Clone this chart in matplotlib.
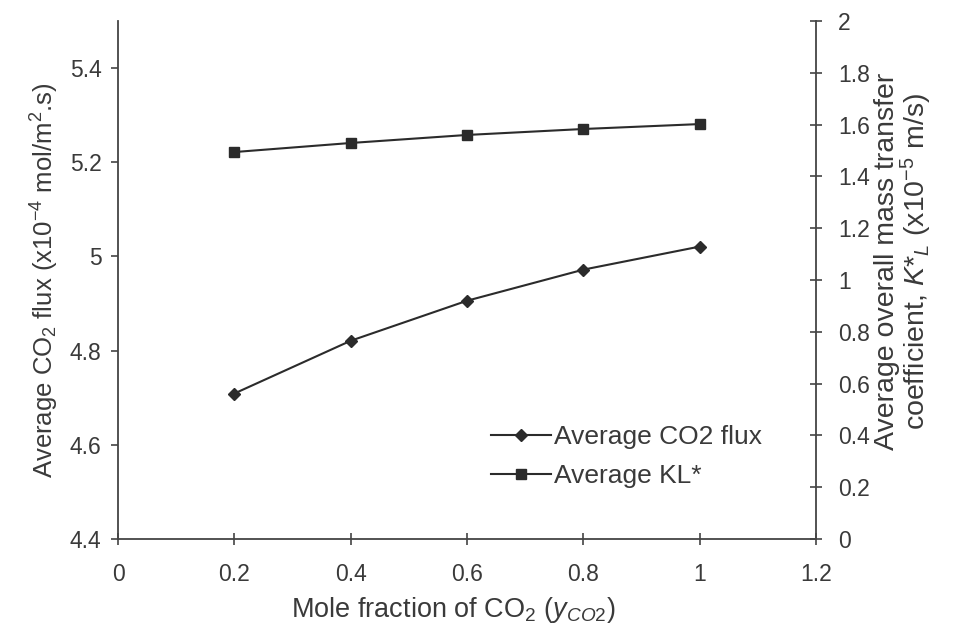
import numpy as np
import matplotlib
matplotlib.use('Agg')
import matplotlib.pyplot as plt

plt.rcParams['font.family'] = ['Liberation Sans', 'DejaVu Sans']
plt.rcParams['mathtext.fontset'] = 'custom'
plt.rcParams['mathtext.rm'] = 'Liberation Sans'
plt.rcParams['mathtext.it'] = 'Liberation Sans:italic'
plt.rcParams['mathtext.bf'] = 'Liberation Sans:bold'

# Mole fraction of CO2 in the feed gas
y_co2 = [0.2, 0.4, 0.6, 0.8, 1.0]
# Average CO2 flux (x10^-4 mol/m2.s)
co2_flux = [4.709, 4.821, 4.906, 4.972, 5.021]
# Average overall mass transfer coefficient KL* (x10^-5 m/s)
kl_star = [1.494, 1.529, 1.560, 1.583, 1.602]

x_ticks = [0, 0.2, 0.4, 0.6, 0.8, 1, 1.2]
left_ticks = [4.4, 4.6, 4.8, 5, 5.2, 5.4]
right_ticks = [0, 0.2, 0.4, 0.6, 0.8, 1, 1.2, 1.4, 1.6, 1.8, 2]

ink = '#2b2b2b'
text_col = '#3a3a3a'

fig = plt.figure(figsize=(9.55, 6.34), dpi=100)
ax = fig.add_axes([0.1236, 0.1498, 0.7309, 0.8171])
ax2 = ax.twinx()

h1, = ax.plot(y_co2, co2_flux, color=ink, lw=1.5, marker='D', ms=6.5,
              mfc=ink, mec=ink, label='Average CO2 flux')
h2, = ax2.plot(y_co2, kl_star, color=ink, lw=1.5, marker='s', ms=6.5,
               mfc=ink, mec=ink, label='Average KL*')

ax.set_xlim(0, 1.2)
ax.set_ylim(4.4, 5.5)
ax2.set_ylim(0, 2)
ax.set_xticks(x_ticks)
ax.set_xticklabels([f'{t:g}' for t in x_ticks])
ax.set_yticks(left_ticks)
ax.set_yticklabels([f'{t:g}' for t in left_ticks])
ax2.set_yticks(right_ticks)
ax2.set_yticklabels([f'{t:g}' for t in right_ticks])

for a in (ax, ax2):
    a.spines['top'].set_visible(False)
    for s in a.spines.values():
        s.set_color('#444444')
        s.set_linewidth(1.3)
ax.spines['right'].set_visible(False)
ax2.spines['left'].set_visible(False)
ax2.spines['bottom'].set_visible(False)

ax.tick_params(axis='x', direction='inout', length=8, width=1.2, colors='#444444',
               labelcolor=text_col, labelsize=16.5, pad=13)
ax.tick_params(axis='y', direction='out', length=5, width=1.2, colors='#444444',
               labelcolor=text_col, labelsize=16.5, pad=7)
ax2.tick_params(axis='y', direction='inout', length=8, width=1.2, colors='#444444',
                labelcolor=text_col, labelsize=16.5, pad=12)

ax.set_xlabel(r'Mole fraction of CO$_2$ ($y_{CO2}$)', fontsize=19.5, color=text_col)
ax.xaxis.set_label_coords(0.48, -0.108)
ax.set_ylabel(r'Average CO$_2$ flux (x10$^{-4}$ mol/m$^2$.s)', fontsize=18.5,
              color=text_col, labelpad=6)
ax2.set_ylabel('Average overall mass transfer\n'
               r'coefficient, $K$*$_L$ (x10$^{-5}$ m/s)', fontsize=20.5,
               color=text_col, rotation=90, linespacing=0.95)
ax2.yaxis.set_label_coords(1.083, 0.535)

leg = ax2.legend(handles=[h1, h2], loc='upper left', bbox_to_anchor=(0.5, 0.265),
                 frameon=False, fontsize=19, handlelength=2.3, handletextpad=0.1,
                 labelspacing=0.55)
for t in leg.get_texts():
    t.set_color(text_col)

fig.savefig('out.png', dpi=100)
